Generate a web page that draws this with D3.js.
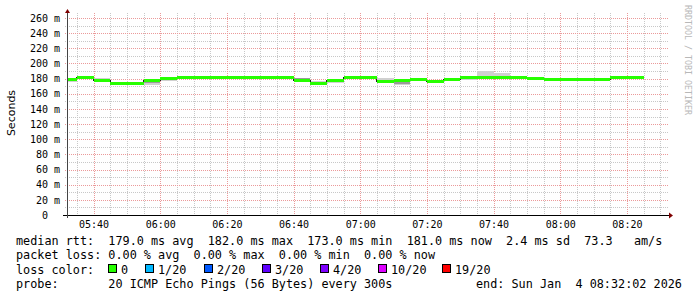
<!DOCTYPE html>
<html>
<head>
<meta charset="utf-8">
<script src="https://cdn.jsdelivr.net/npm/d3@7"></script>
<style>
  html, body { margin: 0; padding: 0; background: #fff; }
  svg text { font-family: "DejaVu Sans Mono", monospace; fill: #000; }
  .pre { white-space: pre; }
</style>
</head>
<body>
<div id="chart"></div>
<script>
// time window of the graph (3 hours ending at 08:32:02)
const tStart = new Date(2026, 0, 4, 5, 32, 2);
const tEnd = new Date(2026, 0, 4, 8, 32, 2);
const firstStep = new Date(2026, 0, 4, 5, 30, 0); // rrd step start, 300s each

// median rtt per 5 min step (ms)
const median = [179, 182, 177, 173, 173, 178, 180.5, 181, 182, 182,
                181, 181, 182, 182, 177, 174, 178, 181.5, 181, 176.5,
                177, 179, 176.5, 179, 182, 182, 182, 181, 180, 179.5,
                179.5, 179.5, 179.5, 181, 182];
// smoke: spread of the 20 pings (outer) and the dense part (core)
const smokeLo = [175, 180.5, 176, 172.5, 172.5, 172, 177, 180, 181, 181,
                 180.5, 180.5, 181, 181, 176, 173.5, 174.5, 180.5, 180, 175.5,
                 171.5, 178, 175.5, 177, 178.5, 180, 181, 180.5, 179.5, 179,
                 179, 179, 179, 180.5, 181];
const smokeHi = [179.5, 182.5, 181, 175, 175, 178.5, 181, 181.5, 182.5, 182.5,
                 181.5, 181.5, 182.5, 182.5, 181.5, 177, 178.5, 182, 181.5, 180.5,
                 177.5, 180, 177, 179.5, 182.5, 190, 188, 182, 180.5, 180,
                 180, 180, 180, 181.5, 182.5];
const coreLo = [176.5, 181, 177, 173, 173, 174, 179, 180.5, 181.5, 181.5,
                181, 181, 181.5, 181.5, 177, 174, 176, 181, 180.5, 176,
                173.5, 178.5, 176, 178, 180, 181, 181.5, 181, 180, 179.5,
                179.5, 179.5, 179.5, 181, 181.5];
const coreHi = [179, 182, 179, 174, 174, 178, 180.5, 181, 182, 182,
                181, 181, 182, 182, 181, 175.5, 178, 181.5, 181, 178.5,
                177, 179.5, 176.5, 179, 182, 184, 183.5, 181.5, 180, 179.5,
                179.5, 179.5, 179.5, 181, 182];

const yTicks = [0, 20, 40, 60, 80, 100, 120, 140, 160, 180, 200, 220, 240, 260];

const lossLabels = ["0", "1/20", "2/20", "3/20", "4/20", "10/20", "19/20"];
const lossColors = ["#26ff00", "#00b8ff", "#0059ff", "#5e00ff", "#7e00ff", "#dd00ff", "#ff0000"];
const lossBoxX = [108, 145, 204, 262, 320, 378, 442];
const lossTextX = [121, 158, 217, 275, 333, 391, 455];

const statsLine = "median rtt:  179.0 ms avg  182.0 ms max  173.0 ms min  181.0 ms now  2.4 ms sd  73.3   am/s";
const lossLine = "packet loss: 0.00 % avg  0.00 % max  0.00 % min  0.00 % now";
const probeLine = "probe:       20 ICMP Echo Pings (56 Bytes) every 300s";
const endLine = "end: Sun Jan  4 08:32:02 2026";

const W = 697, H = 297;
const pLeft = 67, pRight = 667, pTop = 15, pBottom = 215;

const svg = d3.select("#chart").append("svg")
    .attr("width", W).attr("height", H)
    .style("display", "block");

svg.append("rect").attr("width", W).attr("height", H).attr("fill", "#fff");

const x = d3.scaleTime().domain([tStart, tEnd]).range([pLeft, pRight]);
const y = d3.scaleLinear().domain([0, 264]).range([pBottom, pTop]);

// grid
const grid = svg.append("g").attr("shape-rendering", "crispEdges");
const minorY = d3.range(10, 261, 20);
grid.selectAll(".hmin").data(minorY).join("line")
    .attr("x1", pLeft - 2).attr("x2", pRight + 2)
    .attr("y1", d => Math.round(y(d)) + 0.5).attr("y2", d => Math.round(y(d)) + 0.5)
    .attr("stroke", "#c8c8c8").attr("stroke-dasharray", "1,1");
const minorX = d3.timeMinute.every(5).range(tStart, tEnd).filter(d => d.getMinutes() % 20 !== 0);
grid.selectAll(".vmin").data(minorX).join("line")
    .attr("y1", pTop - 2).attr("y2", pBottom + 2)
    .attr("x1", d => Math.round(x(d)) + 0.5).attr("x2", d => Math.round(x(d)) + 0.5)
    .attr("stroke", "#c8c8c8").attr("stroke-dasharray", "1,1");
grid.selectAll(".hmaj").data(yTicks.slice(1)).join("line")
    .attr("x1", pLeft - 2).attr("x2", pRight + 2)
    .attr("y1", d => Math.round(y(d)) + 0.5).attr("y2", d => Math.round(y(d)) + 0.5)
    .attr("stroke", "#eb9a9a").attr("stroke-dasharray", "1,1");
const majorX = d3.timeMinute.every(20).range(tStart, tEnd);
grid.selectAll(".vmaj").data(majorX).join("line")
    .attr("y1", pTop - 2).attr("y2", pBottom + 2)
    .attr("x1", d => Math.round(x(d)) + 0.5).attr("x2", d => Math.round(x(d)) + 0.5)
    .attr("stroke", "#eb9a9a").attr("stroke-dasharray", "1,1");

// data
const step = 5 * 60 * 1000;
const rows = median.map((m, i) => {
    const t0 = new Date(firstStep.getTime() + i * step);
    return {
        t0: t0, t1: new Date(t0.getTime() + step), med: m,
        lo: smokeLo[i], hi: smokeHi[i], clo: coreLo[i], chi: coreHi[i]
    };
});
const sx0 = d => x(d.t0 < tStart ? tStart : d.t0);
const sx1 = d => x(d.t1);

const plot = svg.append("g").attr("shape-rendering", "crispEdges");
plot.selectAll(".smoke").data(rows).join("rect")
    .attr("x", sx0).attr("width", d => sx1(d) - sx0(d))
    .attr("y", d => y(d.hi)).attr("height", d => y(d.lo) - y(d.hi))
    .attr("fill", "#d0d0d0");
plot.selectAll(".core").data(rows).join("rect")
    .attr("x", sx0).attr("width", d => sx1(d) - sx0(d))
    .attr("y", d => y(d.chi)).attr("height", d => y(d.clo) - y(d.chi))
    .attr("fill", "#9a9a9a");

const pts = rows.map(d => [d.t0 < tStart ? tStart : d.t0, d.med]);
pts.push([rows[rows.length - 1].t1, median[median.length - 1]]);
plot.append("path")
    .attr("d", d3.line().x(d => x(d[0])).y(d => y(d[1])).curve(d3.curveStepAfter)(pts))
    .attr("fill", "none").attr("stroke", "#202020").attr("stroke-width", 1);

plot.selectAll(".med").data(rows).join("rect")
    .attr("x", sx0).attr("width", d => sx1(d) - sx0(d))
    .attr("y", d => y(d.med) - 1.5).attr("height", 3)
    .attr("fill", lossColors[0]);

// axes lines and arrows
const ax = svg.append("g").attr("shape-rendering", "crispEdges");
ax.append("line").attr("x1", pLeft - 4).attr("x2", pRight + 3)
    .attr("y1", pBottom + 0.5).attr("y2", pBottom + 0.5).attr("stroke", "#000");
ax.append("line").attr("x1", pLeft + 0.5).attr("x2", pLeft + 0.5)
    .attr("y1", pBottom + 3).attr("y2", pTop - 3).attr("stroke", "#444");
svg.append("path").attr("d", `M${pRight + 2},${pBottom - 2.5}L${pRight + 6},${pBottom + 0.5}L${pRight + 2},${pBottom + 3.5}Z`)
    .attr("fill", "#7f0000");
svg.append("path").attr("d", `M${pLeft - 2},${pTop - 2}L${pLeft + 0.5},${pTop - 6}L${pLeft + 3},${pTop - 2}Z`)
    .attr("fill", "#7f0000");

// y axis labels
const yAxis = svg.append("g").attr("transform", `translate(${pLeft},0)`)
    .call(d3.axisLeft(y).tickValues(yTicks).tickSize(0).tickPadding(7)
        .tickFormat(d => d === 0 ? "0" : d + " m"));
yAxis.select(".domain").remove();
yAxis.selectAll("text")
    .attr("dx", d => d === 0 ? -12 : 0)
    .style("font-family", "DejaVu Sans Mono").style("font-size", "10px").attr("fill", "#000");

// x axis labels
const xAxis = svg.append("g").attr("transform", `translate(0,${pBottom})`)
    .call(d3.axisBottom(x).ticks(d3.timeMinute.every(20)).tickSize(0).tickPadding(6)
        .tickFormat(d3.timeFormat("%H:%M")));
xAxis.select(".domain").remove();
xAxis.selectAll("text")
    .style("font-family", "DejaVu Sans Mono").style("font-size", "10px").attr("fill", "#000");

// y title
svg.append("text").attr("transform", "translate(15,113) rotate(-90)")
    .attr("text-anchor", "middle")
    .style("font-family", "DejaVu Sans").style("font-size", "11px")
    .text("Seconds");

// watermark
svg.append("text").attr("transform", "translate(685,5) rotate(90)")
    .style("font-size", "8.3px").style("fill", "#b8b8b8")
    .text("RRDTOOL / TOBI OETIKER");

// legend
const lg = svg.append("g").style("font-size", "11.8px");
lg.append("text").attr("class", "pre").attr("x", 16).attr("y", 245).text(statsLine);
lg.append("text").attr("class", "pre").attr("x", 16).attr("y", 259.3).text(lossLine);
lg.append("text").attr("class", "pre").attr("x", 16).attr("y", 273.5).text("loss color:");
lg.selectAll(".lbox").data(lossLabels).join("rect")
    .attr("x", (d, i) => lossBoxX[i] + 0.5).attr("y", 264.5)
    .attr("width", 8).attr("height", 8)
    .attr("fill", (d, i) => lossColors[i]).attr("stroke", "#000").attr("stroke-width", 1);
lg.selectAll(".ltxt").data(lossLabels).join("text")
    .attr("x", (d, i) => lossTextX[i]).attr("y", 273.5).text(d => d);
lg.append("text").attr("class", "pre").attr("x", 16).attr("y", 287.7).text(probeLine);
lg.append("text").attr("class", "pre").attr("x", 476).attr("y", 287.7).text(endLine);
</script>
</body>
</html>
